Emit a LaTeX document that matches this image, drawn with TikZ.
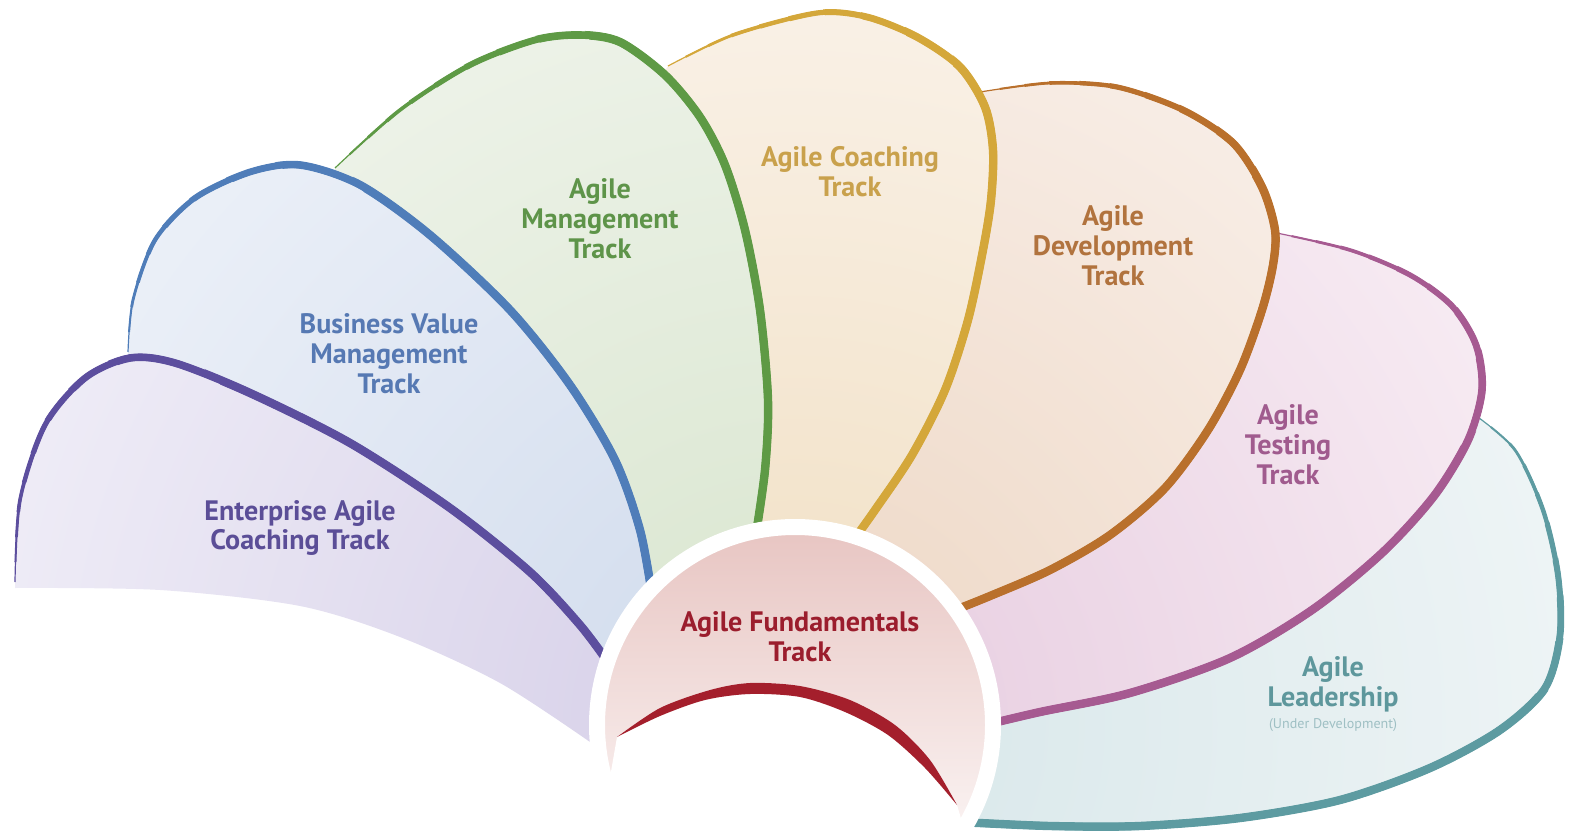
\documentclass[tikz,border=0pt]{standalone}
\usepackage{fontspec}
\setmainfont{PT Sans}
\usepackage{xcolor}
\usepackage{tikz}
\usetikzlibrary{positioning}
\definecolor{entline}{HTML}{5C4E9E}
\definecolor{entlight}{HTML}{F1EFF8}
\definecolor{entmid}{HTML}{D4CDE7}
\definecolor{enttext}{HTML}{5B4E97}
\definecolor{bvline}{HTML}{4F7DB9}
\definecolor{bvlight}{HTML}{EEF2F9}
\definecolor{bvmid}{HTML}{CFDAEC}
\definecolor{bvtext}{HTML}{5679B3}
\definecolor{mgline}{HTML}{5E9A45}
\definecolor{mglight}{HTML}{F1F5ED}
\definecolor{mgmid}{HTML}{D8E5CE}
\definecolor{mgtext}{HTML}{5E9449}
\definecolor{coline}{HTML}{D4A73A}
\definecolor{colight}{HTML}{FCF5EF}
\definecolor{comid}{HTML}{F0DFC2}
\definecolor{cotext}{HTML}{C9A14C}
\definecolor{dvline}{HTML}{B9702C}
\definecolor{dvlight}{HTML}{FAF2ED}
\definecolor{dvmid}{HTML}{EDD6C3}
\definecolor{dvtext}{HTML}{B1733E}
\definecolor{tsline}{HTML}{A65A91}
\definecolor{tslight}{HTML}{F9EFF5}
\definecolor{tsmid}{HTML}{E6CBDF}
\definecolor{tstext}{HTML}{A05B8E}
\definecolor{ldline}{HTML}{5D9BA1}
\definecolor{ldlight}{HTML}{F1F6F7}
\definecolor{ldmid}{HTML}{D6E6E9}
\definecolor{ldtext}{HTML}{5E979C}
\definecolor{ldnote}{HTML}{9FC0C4}
\definecolor{fdred}{HTML}{A41F2C}
\definecolor{fdtext}{HTML}{9B1D2D}
\definecolor{fdtop}{HTML}{E8C6C3}

% one track petal: line colour, light fill, shaded fill, start, edge points, hidden back points
\newcommand{\drawtrack}[6]{%
  \begin{scope}
    \clip plot[smooth] coordinates {#5} -- (795,725) -- plot[smooth] coordinates {#6} -- cycle;
    \shade[inner color=#3, outer color=#2] (795,725) circle (900);
  \end{scope}
  \foreach \rad/\wid in {0.1/1.2, 20/2, 45/2.8, 70/3.6, 100/4.4, 130/5.2, 165/6, 200/6.8, 240/7.6, 285/8.4}{
    \begin{scope}[even odd rule]
      \clip (-100,-100) rectangle (1700,950) #4 circle (\rad);
      \draw[#1, line width=\wid*0.02cm] plot[smooth] coordinates {#5};
    \end{scope}
  }
}

\begin{document}
\begin{tikzpicture}[
        x=0.02cm, y=-0.02cm,
        tracktext/.style={align=center, inner sep=0pt, font=\fontsize{16}{17}\selectfont\bfseries},
        notetext/.style={align=center, inner sep=0pt, font=\fontsize{8}{9}\selectfont}
    ]
        \useasboundingbox (0,0) rectangle (1577,834);

        % Petals, back to front
        \drawtrack{ldline}{ldlight}{ldmid}{(1475,415)}
          {(1475,415) (1515,450) (1543,510) (1558,575) (1560,635) (1545,688) (1500,730) (1430,768) (1340,800) (1240,818) (1140,826) (1050,826) (960,822)}
          {(940,715) (1040,700) (1130,682) (1230,645) (1305,600) (1375,545) (1425,490) (1460,435) (1472,418)}
        \drawtrack{tsline}{tslight}{tsmid}{(1272,232)}
          {(1272,232) (1350,250) (1410,275) (1452,306) (1476,345) (1482,390) (1468,440) (1434,496) (1382,553) (1312,610) (1230,658) (1130,693) (1040,712) (985,725)}
          {(940,610) (1050,555) (1140,500) (1195,435) (1230,360) (1250,300) (1262,255) (1268,236)}
        \drawtrack{dvline}{dvlight}{dvmid}{(980,92)}
          {(980,92) (1050,83) (1117,87) (1183,110) (1233,143) (1262,187) (1275,230) (1273,265) (1262,310) (1240,370) (1208,430) (1165,488) (1110,535) (1050,570) (990,596) (950,612)}
          {(840,540) (900,470) (925,420) (955,330) (970,250) (980,180) (976,120) (978,98)}
        \drawtrack{coline}{colight}{comid}{(668,66)}
          {(668,66) (733,35) (817,13) (867,17) (917,37) (960,67) (985,107) (993,150) (991,200) (983,250) (968,320) (945,390) (912,455) (875,510) (850,545)}
          {(745,560) (752,480) (752,400) (745,320) (728,240) (706,165) (685,110) (660,78)}
        \drawtrack{mgline}{mglight}{mgmid}{(335,168)}
          {(335,168) (400,110) (470,65) (535,40) (580,35) (620,42) (665,75) (700,117) (725,165) (745,230) (760,310) (768,400) (765,470) (755,540)}
          {(640,600) (610,500) (570,415) (510,330) (430,255) (360,200) (335,178)}
        \drawtrack{bvline}{bvlight}{bvmid}{(128,352)}
          {(128,352) (133,300) (155,240) (195,198) (250,172) (300,165) (360,185) (430,235) (510,310) (570,385) (615,460) (640,530) (652,595)}
          {(600,660) (520,590) (420,510) (300,440) (200,390) (128,360)}
        \drawtrack{entline}{entlight}{entmid}{(15,582)}
          {(15,582) (20,500) (45,425) (85,378) (130,358) (175,363) (250,393) (350,443) (450,508) (530,572) (580,625) (610,665)}
          {(590,742) (500,683) (400,637) (300,606) (160,590) (15,588)}

        % Centre disc
        \shade[top color=fdtop, bottom color=white] (795,725) circle (192);
        \begin{scope}
          \clip (795,725) circle (192);
          \fill[white] plot[smooth] coordinates {(617,737) (660,708) (710,690) (750,683) (800,686) (850,700) (895,725) (930,760) (957,805)} -- (1000,950) -- (580,950) -- cycle;
        \end{scope}
        \fill[fdred] plot[smooth] coordinates {(617,737) (660,708) (710,690) (750,683) (800,686) (850,700) (895,725) (930,760) (957,805)}
          -- plot[smooth] coordinates {(957,805) (925,768) (888,735) (845,712) (800,697) (750,694) (705,700) (660,716) (617,737)} -- cycle;
        \draw[white, line width=0.32cm] (795,725) circle (198);

        % Labels
        \node[tracktext, text=enttext] (enterprise) at (300,528) {Enterprise Agile\\Coaching Track};
        \node[tracktext, text=bvtext] (business) at (389,354) {Business Value\\Management\\Track};
        \node[tracktext, text=mgtext] (management) at (600,219) {Agile\\Management\\Track};
        \node[tracktext, text=cotext] (coaching) at (850,172) {Agile Coaching\\Track};
        \node[tracktext, text=dvtext] (development) at (1113,246) {Agile\\Development\\Track};
        \node[tracktext, text=tstext] (testing) at (1288,445) {Agile\\Testing\\Track};
        \node[tracktext, text=ldtext] (leadership) at (1333,684) {Agile\\Leadership};
        \node[notetext, text=ldnote, below=0.12cm of leadership] (leadnote) {(Under Development)};
        \node[tracktext, text=fdtext] (fundamentals) at (800,637) {Agile Fundamentals\\Track};
    \end{tikzpicture}
\end{document}
